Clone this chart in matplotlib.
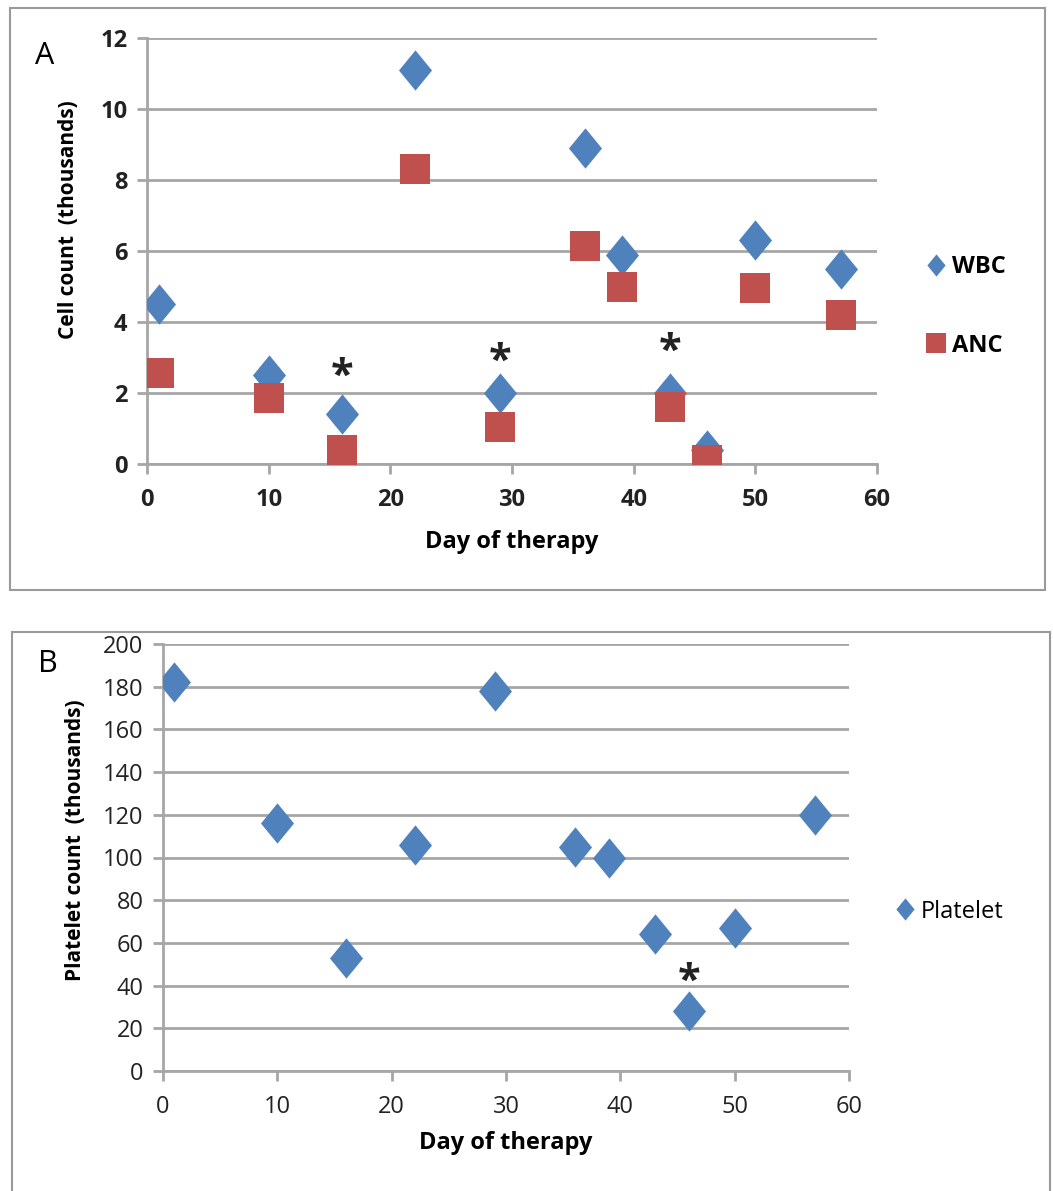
import matplotlib
matplotlib.use("Agg")
import matplotlib.pyplot as plt
from matplotlib.lines import Line2D
from matplotlib.patches import Rectangle

plt.rcParams['font.family'] = ['Open Sans', 'DejaVu Sans']

days = [1, 10, 16, 22, 29, 36, 39, 43, 46, 50, 57]
wbc = [4.5, 2.5, 1.4, 11.1, 2.0, 8.9, 5.9, 2.0, 0.4, 6.3, 5.5]
anc = [2.55, 1.85, 0.4, 8.3, 1.05, 6.15, 5.0, 1.6, 0.1, 4.95, 4.2]
platelet = [182, 116, 53, 106, 178, 105, 100, 64, 28, 67, 120]
star_a_days = [16, 29, 43]
star_a_vals = [2.8, 3.2, 3.5]
star_b_days = [46]
star_b_vals = [46]

BLUE = '#4F81BD'
RED = '#C0504D'
GRID = '#A6A6A6'
diamond = [(0, 1), (0.82, 0), (0, -1), (-0.82, 0), (0, 1)]

fig = plt.figure(figsize=(10.53, 11.91), dpi=100)
W, H = 1053, 1191

def fbox(x0, y0, x1, y1):
    fig.patches.append(Rectangle((x0 / W, 1 - y1 / H), (x1 - x0) / W, (y1 - y0) / H,
                                 transform=fig.transFigure, fill=False,
                                 edgecolor='#9A9A9A', linewidth=1.5, zorder=0))

fbox(10, 8, 1045, 590)
fbox(12, 632, 1050, 1200)

def style(ax, ylim, ystep, bold_ticks):
    ax.set_xlim(0, 60)
    ax.set_ylim(*ylim)
    ax.set_xticks(range(0, 61, 10))
    ax.set_yticks(range(ylim[0], ylim[1] + 1, ystep))
    ax.yaxis.grid(True, color=GRID, linewidth=2)
    ax.set_axisbelow(True)
    for s in ['top', 'right']:
        ax.spines[s].set_visible(False)
    for s in ['left', 'bottom']:
        ax.spines[s].set_color(GRID)
        ax.spines[s].set_linewidth(2)
    ax.tick_params(axis='both', colors=GRID, length=7, width=2, labelsize=17,
                   labelcolor='#222222')
    ax.tick_params(axis='x', pad=10)
    ax.tick_params(axis='y', pad=7)
    for lab in ax.get_xticklabels() + ax.get_yticklabels():
        lab.set_fontweight('bold' if bold_ticks else 'normal')

STAR_OFF_A = -0.35
STAR_OFF_B = -4.5

# Panel A
axA = fig.add_axes([147 / W, 1 - 464 / H, 730 / W, 426 / H])
style(axA, (0, 12), 2, True)
axA.scatter(days, wbc, marker=diamond, s=29 ** 2, color=BLUE, zorder=3, linewidths=0)
axA.scatter(days, anc, marker='s', s=22 ** 2, color=RED, zorder=4, linewidths=0)
for d, v in zip(star_a_days, star_a_vals):
    axA.text(d, v + STAR_OFF_A, '*', ha='center', va='center', fontsize=30,
             fontweight='bold', color='#222222')
axA.set_xlabel('Day of therapy', fontsize=17, fontweight='bold')
axA.xaxis.set_label_coords(0.5, -0.155)
axA.set_ylabel('Cell count  (thousands)', fontsize=15, fontweight='bold')
axA.yaxis.set_label_coords(-0.093, 0.573)
fig.text(35 / W, 1 - 56 / H, 'A', fontsize=22, ha='left', va='center')
hA = [Line2D([], [], marker=diamond, color=BLUE, linestyle='none', markersize=16, markeredgewidth=0),
      Line2D([], [], marker='s', color=RED, linestyle='none', markersize=15, markeredgewidth=0)]
axA.legend(hA, ['WBC', 'ANC'], loc='center left', bbox_to_anchor=(1.035, 0.37),
           frameon=False, labelspacing=2.3, handletextpad=0.2, handlelength=1.0,
           prop={'size': 17, 'weight': 'bold'})

# Panel B
axB = fig.add_axes([163 / W, 1 - 1071 / H, 686 / W, 427 / H])
style(axB, (0, 200), 20, False)
axB.scatter(days, platelet, marker=diamond, s=29 ** 2, color=BLUE, zorder=3, linewidths=0)
for d, v in zip(star_b_days, star_b_vals):
    axB.text(d, v + STAR_OFF_B, '*', ha='center', va='center', fontsize=30,
             fontweight='bold', color='#222222')
axB.set_xlabel('Day of therapy', fontsize=17, fontweight='bold')
axB.xaxis.set_label_coords(0.5, -0.14)
axB.set_ylabel('Platelet count  (thousands)', fontsize=15, fontweight='bold')
axB.yaxis.set_label_coords(-0.112, 0.54)
fig.text(38 / W, 1 - 664 / H, 'B', fontsize=22, ha='left', va='center')
hB = [Line2D([], [], marker=diamond, color=BLUE, linestyle='none', markersize=16, markeredgewidth=0)]
axB.legend(hB, ['Platelet'], loc='center left', bbox_to_anchor=(1.033, 0.373),
           frameon=False, handletextpad=0.2, handlelength=1.0, prop={'size': 17})

fig.savefig('out.png', dpi=100)
